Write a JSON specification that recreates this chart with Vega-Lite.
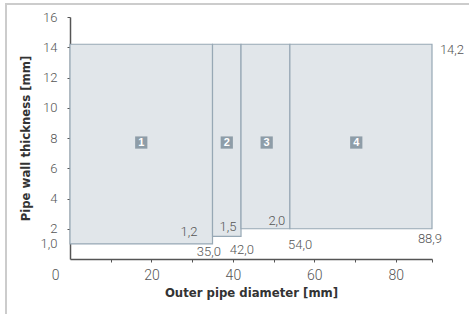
{
  "$schema": "https://vega.github.io/schema/vega-lite/v6.json",
  "width": 465,
  "height": 312,
  "autosize": {"type": "none"},
  "padding": {"left": 6, "top": 4, "right": 0, "bottom": 0},
  "background": "white",
  "config": {
    "view": {"stroke": "#cccccc", "strokeWidth": 2},
    "font": "Roboto"
  },
  "datasets": {
    "zones": [
      {"x": 0, "x2": 35, "y": 1.0, "y2": 14.2},
      {"x": 35, "x2": 42, "y": 1.5, "y2": 14.2},
      {"x": 42, "x2": 54, "y": 2.0, "y2": 14.2},
      {"x": 54, "x2": 88.9, "y": 2.0, "y2": 14.2}
    ],
    "badges": [
      {"x": 17.5, "y": 7.7, "n": "1"},
      {"x": 38.5, "y": 7.7, "n": "2"},
      {"x": 48.3, "y": 7.7, "n": "3"},
      {"x": 70.3, "y": 7.7, "n": "4"}
    ],
    "vals": [
      {"x": 29.2, "y": 1.79, "t": "1,2"},
      {"x": 34.1, "y": 0.46, "t": "35,0"},
      {"x": 38.8, "y": 2.1, "t": "1,5"},
      {"x": 42.2, "y": 0.6, "t": "42,0"},
      {"x": 50.8, "y": 2.5, "t": "2,0"},
      {"x": 56.5, "y": 0.93, "t": "54,0"},
      {"x": 88.4, "y": 1.32, "t": "88,9"},
      {"x": 93.8, "y": 13.8, "t": "14,2"}
    ]
  },
  "encoding": {
    "x": {
      "field": "x", "type": "quantitative",
      "scale": {"domain": [0, 88.9], "range": [64, 426], "nice": false, "zero": false},
      "axis": {
        "title": "Outer pipe diameter [mm]",
        "values": [0, 10, 20, 30, 40, 50, 60, 70, 80, 88.9],
        "labelExpr": "datum.value % 20 === 0 ? datum.label : ''",
        "format": "d",
        "offset": -57,
        "grid": false,
        "domainColor": "#555555",
        "domainWidth": 1.5,
        "tickColor": "#555555",
        "tickSize": 3,
        "tickOpacity": {"condition": {"test": "datum.value === 0", "value": 0}, "value": 1},
        "labelOffset": {"condition": {"test": "datum.value === 0", "value": -15}, "value": 0},
        "labelColor": "#555555",
        "labelFont": "Roboto",
        "labelFontWeight": 300,
        "labelFontSize": 14,
        "labelPadding": 6,
        "labelOverlap": false,
        "labelSeparation": -10,
        "labelFlush": false,
        "titleFont": "DejaVu Sans Condensed, Liberation Sans Narrow, sans-serif",
        "titleFontSize": 13,
        "titleFontWeight": "bold",
        "titleColor": "#333333",
        "titlePadding": 4
      }
    },
    "y": {
      "field": "y", "type": "quantitative",
      "scale": {"domain": [0, 16], "range": [255, 13], "nice": false, "zero": false},
      "axis": {
        "title": "Pipe wall thickness [mm]",
        "values": [1, 2, 4, 6, 8, 10, 12, 14, 16],
        "labelExpr": "datum.value === 1 ? '1,0' : datum.label",
        "offset": -64,
        "grid": false,
        "domainColor": "#555555",
        "domainWidth": 1.5,
        "tickColor": "#555555",
        "tickSize": 3,
        "tickOpacity": {"condition": {"test": "datum.value === 1", "value": 0}, "value": 1},
        "labelColor": "#555555",
        "labelFont": "Roboto",
        "labelFontWeight": 300,
        "labelFontSize": 13,
        "labelPadding": 10,
        "labelOverlap": false,
        "labelSeparation": -10,
        "labelFlush": false,
        "titleFont": "DejaVu Sans Condensed, Liberation Sans Narrow, sans-serif",
        "titleFontSize": 13,
        "titleFontWeight": "bold",
        "titleColor": "#333333",
        "titlePadding": 8
      }
    }
  },
  "layer": [
    {
      "data": {"name": "zones"},
      "mark": {"type": "rect", "fill": "#e1e6ea", "stroke": "#97a8b5", "strokeWidth": 1.2},
      "encoding": {
        "x2": {"field": "x2"},
        "y2": {"field": "y2"}
      }
    },
    {
      "data": {"name": "badges"},
      "mark": {"type": "point", "shape": "square", "filled": true, "size": 150, "color": "#8e9da8", "opacity": 1}
    },
    {
      "data": {"name": "badges"},
      "mark": {"type": "text", "color": "white", "fontWeight": "bold", "fontSize": 11, "font": "Liberation Sans", "baseline": "middle", "align": "center"},
      "encoding": {
        "text": {"field": "n"}
      }
    },
    {
      "data": {"name": "vals"},
      "mark": {"type": "text", "color": "#555555", "fontSize": 13, "font": "Roboto", "fontWeight": 300, "baseline": "middle", "align": "center"},
      "encoding": {
        "text": {"field": "t"}
      }
    }
  ]
}
